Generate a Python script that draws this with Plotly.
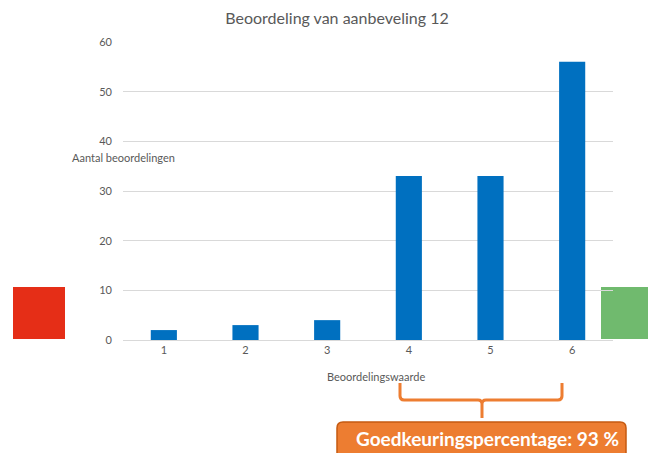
import plotly.graph_objects as go

categories = ["1", "2", "3", "4", "5", "6"]
counts = [2, 3, 4, 33, 33, 56]
y_ticks = [0, 10, 20, 30, 40, 50, 60]

W, H = 648, 453
L, R, T, B = 123, 35, 42, 113
PW, PH = W - L - R, H - T - B


def px(x):
    return (x - L) / PW


def py(y):
    return (H - B - y) / PH


GRAY = "#595959"
FONT = "Lato"

fig = go.Figure()
fig.add_trace(go.Bar(x=categories, y=counts, marker_color="#0070C0",
                     marker_line_width=0, width=0.32))

shapes = []
# red and green boxes
shapes.append(dict(type="rect", xref="paper", yref="paper", layer="below",
                   x0=px(13), x1=px(65), y0=py(339), y1=py(287),
                   fillcolor="#E52E17", line_width=0))
shapes.append(dict(type="rect", xref="paper", yref="paper", layer="below",
                   x0=px(601), x1=px(648), y0=py(339), y1=py(287),
                   fillcolor="#70BA6E", line_width=0))


def P(x, y):
    return f"{px(x):.5f},{py(y):.5f}"

brace = (f"M {P(400,383)} L {P(400,396)} Q {P(400,400)} {P(404,400)} "
         f"L {P(478,400)} Q {P(482,400)} {P(482,404)} L {P(482,418)} "
         f"L {P(482,404)} Q {P(482,400)} {P(486,400)} "
         f"L {P(558,400)} Q {P(562,400)} {P(562,396)} L {P(562,383)}")
shapes.append(dict(type="path", xref="paper", yref="paper", path=brace,
                   line=dict(color="#ED7D31", width=3)))

box = (f"M {P(337,462)} L {P(337,428)} Q {P(337,422)} {P(343,422)} "
       f"L {P(620,422)} Q {P(626,422)} {P(626,428)} L {P(626,462)} Z")
shapes.append(dict(type="path", xref="paper", yref="paper", path=box,
                   fillcolor="#ED7D31", line=dict(color="#C55A11", width=1.5)))

annotations = [
    dict(text="Aantal beoordelingen", xref="paper", yref="paper",
         x=px(70), y=py(157), xanchor="left", yanchor="middle",
         showarrow=False, font=dict(family=FONT, size=11, color=GRAY)),
    dict(text="Beoordelingswaarde", xref="paper", yref="paper",
         x=px(376), y=py(376), xanchor="center", yanchor="middle",
         showarrow=False, font=dict(family=FONT, size=11, color=GRAY)),
    dict(text="<b>Goedkeuringspercentage: 93 %</b>", xref="paper", yref="paper",
         x=px(487), y=py(438), xanchor="center", yanchor="middle",
         showarrow=False, font=dict(family=FONT, size=19, color="white")),
]

fig.update_layout(
    width=W, height=H,
    margin=dict(l=L, r=R, t=T, b=B),
    paper_bgcolor="white", plot_bgcolor="white",
    title=dict(text="Beoordeling van aanbeveling 12", x=337 / W, xanchor="center",
               y=1 - 18 / H, yanchor="middle",
               font=dict(family=FONT, size=16, color=GRAY)),
    font=dict(family=FONT, size=11, color=GRAY),
    showlegend=False,
    shapes=shapes,
    annotations=annotations,
    xaxis=dict(showgrid=False, showline=True, linecolor="#D9D9D9", linewidth=1,
               ticks="", tickfont=dict(size=11, color=GRAY), fixedrange=True),
    yaxis=dict(range=[0, 60], tickvals=y_ticks, showgrid=True, gridcolor="#D9D9D9",
               gridwidth=1, zeroline=False, showline=False, ticks="",
               tickfont=dict(size=11, color=GRAY), ticklabelstandoff=10),
)

fig.write_html("out.html", config={"displayModeBar": False},
               post_script="document.body.style.margin='0';document.body.style.overflow='hidden';")
